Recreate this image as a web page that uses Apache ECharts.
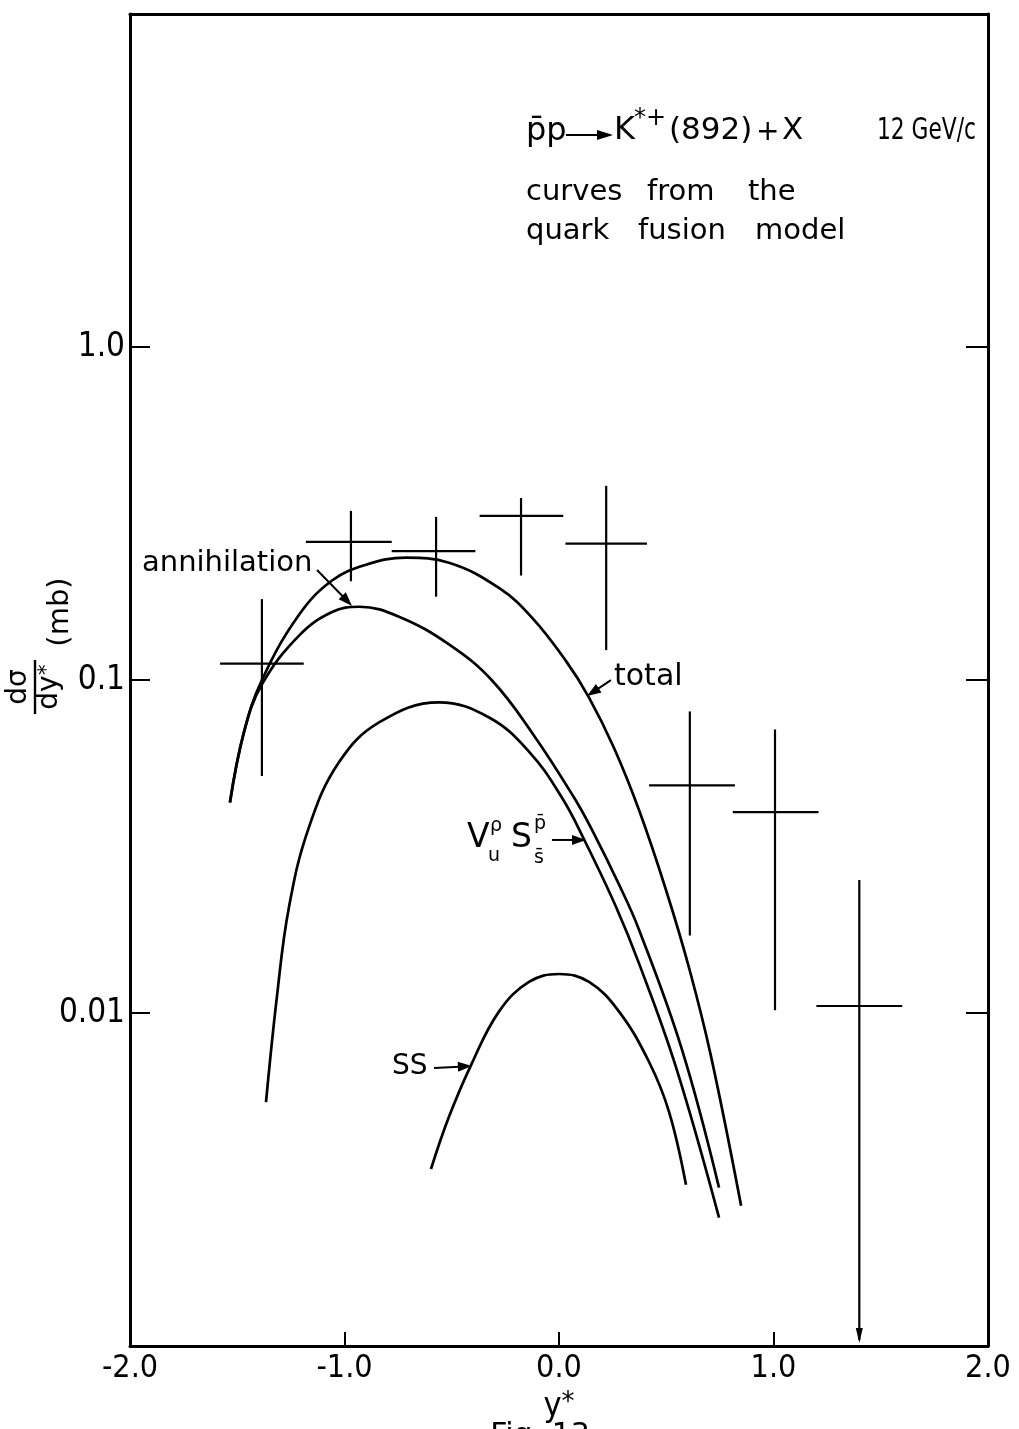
<!DOCTYPE html>
<html>
<head>
<meta charset="utf-8">
<script src="https://cdn.jsdelivr.net/npm/echarts@6/dist/echarts.min.js"></script>
<style>
  html, body { margin: 0; padding: 0; background: #fff; }
  #chart { width: 1019px; height: 1429px; }
</style>
</head>
<body>
<div id="chart"></div>
<script>
// Rapidity distribution dσ/dy* for p̄p → K*+(892) + X at 12 GeV/c

// Axis ticks
const xTicks = [-2, -1, 0, 1, 2];
const xTickLabels = ['-2.0', '-1.0', '0.0', '1.0', '2.0'];
const yTickLabels = { '0': '1.0', '-1': '0.1', '-2': '0.01' };

// Measured points: bin centre, value, bin edges, error range (mb)
const ptX    = [-1.385, -0.970, -0.573, -0.177, 0.220, 0.610, 1.007, 1.400];
const ptY    = [0.112, 0.260, 0.244, 0.311, 0.257, 0.0483, 0.0401, 0.0105];
const binLo  = [-1.58, -1.18, -0.78, -0.37, 0.03, 0.42, 0.81, 1.20];
const binHi  = [-1.19, -0.78, -0.39, 0.02, 0.41, 0.82, 1.21, 1.60];
const errLo  = [0.0515, 0.198, 0.178, 0.206, 0.123, 0.0171, 0.0102, 0.001];
const errHi  = [0.175, 0.322, 0.309, 0.352, 0.383, 0.0805, 0.0711, 0.0251];
const toAxis = [0, 0, 0, 0, 0, 0, 0, 1];   // lower error runs down to the axis

// Quark fusion model curves
const totalX = [-1.534, -1.469, -1.385, -1.212, -1.058, -0.90, -0.713, -0.513, -0.28, -0.126, 0.033, 0.14, 0.256, 0.373, 0.50, 0.61, 0.709, 0.849];
const totalY = [0.0429, 0.0696, 0.100, 0.157, 0.199, 0.222, 0.233, 0.225, 0.189, 0.154, 0.114, 0.0886, 0.0626, 0.0407, 0.0233, 0.0134, 0.0074, 0.00264];

const annX = [-1.534, -1.469, -1.385, -1.212, -1.058, -0.93, -0.746, -0.513, -0.312, -0.117, 0.07, 0.154, 0.28, 0.373, 0.573, 0.746];
const annY = [0.0429, 0.0696, 0.097, 0.136, 0.160, 0.166, 0.155, 0.128, 0.0997, 0.0682, 0.0444, 0.0355, 0.0243, 0.0178, 0.00778, 0.00299];

const vusX = [-1.366, -1.315, -1.259, -1.166, -1.026, -0.839, -0.559, -0.326, -0.14, 0.014, 0.117, 0.265, 0.373, 0.545, 0.746];
const vusY = [0.0054, 0.0112, 0.0208, 0.0361, 0.0566, 0.0746, 0.0857, 0.0772, 0.061, 0.0443, 0.0332, 0.0209, 0.0141, 0.00689, 0.00243];

const ssX = [-0.597, -0.513, -0.41, -0.28, -0.14, 0, 0.14, 0.28, 0.42, 0.513, 0.592];
const ssY = [0.0034, 0.00488, 0.00698, 0.0101, 0.0124, 0.0131, 0.0124, 0.0101, 0.00713, 0.00505, 0.00305];

// Arrow pointers for the curve labels: [tail, tip] in (y*, mb)
const annArrow   = [[-1.128, 0.214], [-0.965, 0.167]];
const totalArrow = [[0.242, 0.100], [0.131, 0.0895]];
const vusArrow   = [[-0.033, 0.0331], [0.126, 0.0331]];
const ssArrow    = [[-0.583, 0.00684], [-0.406, 0.00693]];

const FONT = '"DejaVu Sans", "Noto Sans", sans-serif';
const NARROW = '"Liberation Sans Narrow", "DejaVu Sans Condensed", "Liberation Sans", sans-serif';

const pairs = (xs, ys) => xs.map((x, i) => [x, ys[i]]);
const points = ptX.map((x, i) => [x, ptY[i], binLo[i], binHi[i], errLo[i], errHi[i], toAxis[i]]);

const curveStyle = { color: '#000', width: 2.7 };
function curve(name, xs, ys) {
  return {
    name, type: 'line', data: pairs(xs, ys), smooth: 0.4, symbol: 'none',
    lineStyle: curveStyle, itemStyle: { color: '#000' }, silent: true, clip: false
  };
}

const chart = echarts.init(document.getElementById('chart'), null, { renderer: 'canvas' });

const frameLine = { onZero: false, lineStyle: { color: '#000', width: 3 } };

const option = {
  animation: false,
  backgroundColor: '#fff',
  grid: { left: 130, right: 31, top: 14, bottom: 82 },
  xAxis: [{
    type: 'value', min: -2, max: 2, interval: 1, position: 'bottom',
    axisLine: frameLine,
    axisTick: { inside: true, length: 14, lineStyle: { color: '#000', width: 2 } },
    splitLine: { show: false },
    axisLabel: {
      color: '#000', fontFamily: NARROW, fontSize: 32, margin: 7,
      showMinLabel: true, showMaxLabel: true,
      formatter: v => xTickLabels[xTicks.indexOf(Math.round(v))] || ''
    },
    name: '{y|y}{s|*}', nameLocation: 'middle', nameGap: 30,
    nameTextStyle: {
      rich: {
        y: { fontFamily: NARROW, fontSize: 34, color: '#000' },
        s: { fontFamily: FONT, fontSize: 26, color: '#000', verticalAlign: 'top' }
      }
    }
  }, {
    type: 'value', min: -2, max: 2, position: 'top',
    axisLine: frameLine,
    axisTick: { show: false }, axisLabel: { show: false }, splitLine: { show: false }
  }],
  yAxis: [{
    type: 'log', logBase: 10, min: 0.001, max: 10, splitNumber: 4, position: 'left',
    axisLine: frameLine,
    axisTick: { inside: true, length: 20, lineStyle: { color: '#000', width: 2 } },
    minorTick: { show: false }, splitLine: { show: false },
    axisLabel: {
      color: '#000', fontFamily: NARROW, fontSize: 33, margin: 5,
      formatter: v => yTickLabels[String(Math.round(Math.log10(v)))] || ''
    }
  }, {
    type: 'log', logBase: 10, min: 0.001, max: 10, splitNumber: 4, position: 'right',
    axisLine: frameLine,
    axisTick: { inside: true, length: 22, lineStyle: { color: '#000', width: 2 } },
    axisLabel: { show: false }, splitLine: { show: false }
  }],
  series: [
    curve('total', totalX, totalY),
    curve('annihilation', annX, annY),
    curve('VuS', vusX, vusY),
    curve('SS', ssX, ssY),
    {
      name: 'data', type: 'custom', data: points, clip: false,
      encode: { x: [0, 2, 3], y: [1, 4, 5] },
      renderItem: function (params, api) {
        const c  = api.coord([api.value(0), api.value(1)]);
        const l  = api.coord([api.value(2), api.value(1)]);
        const r  = api.coord([api.value(3), api.value(1)]);
        const lo = api.coord([api.value(0), api.value(4)]);
        const hi = api.coord([api.value(0), api.value(5)]);
        const st = { stroke: '#000', lineWidth: 2.2 };
        const kids = [
          { type: 'line', shape: { x1: l[0], y1: c[1], x2: r[0], y2: c[1] }, style: st },
          { type: 'line', shape: { x1: c[0], y1: hi[1], x2: c[0], y2: lo[1] - (api.value(6) ? 6 : 0) }, style: st }
        ];
        if (api.value(6)) {
          kids.push({ type: 'polygon',
            shape: { points: [[c[0] - 3.5, lo[1] - 18], [c[0] + 3.5, lo[1] - 18], [c[0], lo[1] - 3]] },
            style: { fill: '#000' } });
        }
        return { type: 'group', children: kids };
      }
    }
  ]
};

chart.setOption(option);

// ---- annotations ----
function txt(x, y, s, size, props, family) {
  const el = {
    type: 'text', x: x, y: y, silent: true,
    style: { text: s, font: size + 'px ' + (family || FONT), fill: '#000',
      align: 'left', verticalAlign: 'middle', textAlign: 'left', textVerticalAlign: 'middle' }
  };
  return Object.assign(el, props || {});
}
function arrowPx(p0, p1, len, half, width) {
  const dx = p1[0] - p0[0], dy = p1[1] - p0[1];
  const d = Math.hypot(dx, dy), ux = dx / d, uy = dy / d;
  const bx = p1[0] - ux * len, by = p1[1] - uy * len;
  return [
    { type: 'line', silent: true, shape: { x1: p0[0], y1: p0[1], x2: bx + ux * 2, y2: by + uy * 2 },
      style: { stroke: '#000', lineWidth: width || 2 } },
    { type: 'polygon', silent: true,
      shape: { points: [[p1[0], p1[1]], [bx - uy * half, by + ux * half], [bx + uy * half, by - ux * half]] },
      style: { fill: '#000' } }
  ];
}
function arrowData(pair) {
  const a = chart.convertToPixel({ gridIndex: 0 }, pair[0]);
  const b = chart.convertToPixel({ gridIndex: 0 }, pair[1]);
  return arrowPx(a, b, 14, 5);
}

const g = [];
// reaction and model caption
g.push(txt(526, 132, 'p\u0304p', 32));
g.push(...arrowPx([566, 135], [613, 135], 16, 5, 2));
g.push(txt(614, 131, 'K', 32));
g.push(txt(634, 119, '*+', 24));
g.push(txt(669, 131, '(892)', 31));
g.push(txt(756, 133, '+', 28));
g.push(txt(782, 131, 'X', 31));
g.push(txt(877, 131, '12 GeV/c', 31, { scaleX: 0.78 }, NARROW));
g.push(txt(526, 192, 'curves', 29));
g.push(txt(647, 192, 'from', 29));
g.push(txt(748, 192, 'the', 29));
g.push(txt(526, 231, 'quark', 29));
g.push(txt(638, 231, 'fusion', 29));
g.push(txt(755, 231, 'model', 29));

// curve labels
g.push(txt(142, 563, 'annihilation', 29));
g.push(...arrowData(annArrow));
g.push(txt(614, 677, 'total', 30));
g.push(...arrowData(totalArrow));
g.push(txt(467, 838, 'V', 33));
g.push(txt(490, 826, '\u03c1', 19));
g.push(txt(488, 856, 'u', 19));
g.push(txt(511, 838, 'S', 33));
g.push(txt(534, 824, 'p\u0304', 19));
g.push(txt(534, 858, 's\u0304', 19));
g.push(...arrowData(vusArrow));
g.push(txt(392, 1067, 'SS', 28));
g.push(...arrowData(ssArrow));

// y-axis title: dσ/dy* (mb), reading upwards
const R = Math.PI / 2;
const mid = { align: 'center', verticalAlign: 'middle', textAlign: 'center', textVerticalAlign: 'middle', fill: '#000' };
g.push({ type: 'text', x: 19, y: 687, rotation: R, silent: true,
  style: Object.assign({ text: 'd\u03c3', font: '28px ' + FONT }, mid) });
g.push({ type: 'line', silent: true, shape: { x1: 35, y1: 714, x2: 35, y2: 660 }, style: { stroke: '#000', lineWidth: 2.4 } });
g.push({ type: 'text', x: 50, y: 687, rotation: R, silent: true,
  style: Object.assign({ text: 'dy{s|*}', font: '28px ' + FONT,
    rich: { s: { font: '22px ' + FONT, fill: '#000', verticalAlign: 'top' } } }, mid) });
g.push({ type: 'text', x: 60, y: 612, rotation: R, silent: true,
  style: Object.assign({ text: '(mb)', font: '29px ' + FONT }, mid) });

// figure caption below the axis
g.push({ type: 'text', x: 540, y: 1421, silent: true,
  style: Object.assign({ text: 'Fig. 13', font: '30px ' + FONT }, mid, { verticalAlign: 'top', textVerticalAlign: 'top' }) });

chart.setOption({ graphic: { elements: g } });
</script>
</body>
</html>
